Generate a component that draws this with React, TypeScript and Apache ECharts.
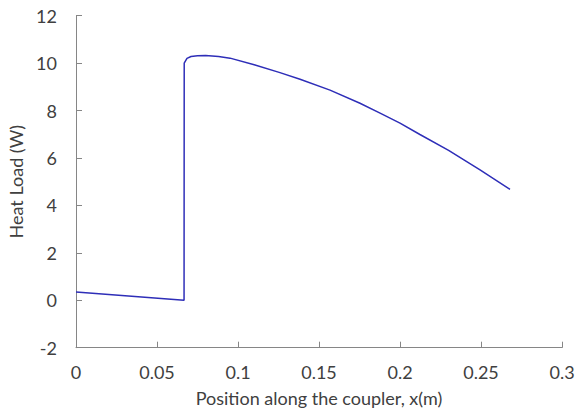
import React, { useEffect, useRef } from "react";
import * as echarts from "echarts";

const positions = [0, 0.0667, 0.0668, 0.0685, 0.071, 0.075, 0.08, 0.088, 0.0951, 0.11, 0.1259, 0.1383, 0.1568, 0.1753, 0.1877, 0.2, 0.2123, 0.23, 0.2494, 0.2679];
const heatLoad = [0.35, 0.0, 10.0, 10.2, 10.28, 10.31, 10.32, 10.28, 10.21, 9.93, 9.6, 9.32, 8.86, 8.31, 7.89, 7.47, 6.99, 6.32, 5.5, 4.68];

const xTitle = "Position along the coupler, x(m)";
const yTitle = "Heat Load (W)";

export default function App() {
  const ref = useRef<HTMLDivElement>(null);
  useEffect(() => {
    if (!ref.current) return;
    const chart = echarts.init(ref.current, undefined, { renderer: "svg" });
    const font = "Lato, 'Open Sans', sans-serif";
    const axisColor = "#868686";
    const textColor = "#404040";
    chart.setOption({
      animation: false,
      backgroundColor: "#ffffff",
      grid: { left: 76, right: 21, top: 15.7, bottom: 66.3, containLabel: false, outerBoundsMode: "none" },
      xAxis: {
        type: "value",
        min: 0,
        max: 0.3,
        interval: 0.05,
        name: xTitle,
        nameLocation: "middle",
        nameGap: 41,
        nameTextStyle: { fontFamily: font, fontSize: 18, color: textColor },
        axisLine: { show: true, onZero: false, lineStyle: { color: axisColor, width: 1 } },
        axisTick: { show: true, inside: true, length: 6, lineStyle: { color: axisColor } },
        axisLabel: { fontFamily: font, fontSize: 18, color: textColor, margin: 15 },
        splitLine: { show: false },
      },
      yAxis: {
        type: "value",
        min: -2,
        max: 12,
        interval: 2,
        name: yTitle,
        nameLocation: "middle",
        nameGap: 39,
        nameTextStyle: { fontFamily: font, fontSize: 18, color: textColor },
        axisLine: { show: true, onZero: false, lineStyle: { color: axisColor, width: 1 } },
        axisTick: { show: true, inside: true, length: 6, lineStyle: { color: axisColor } },
        axisLabel: { fontFamily: font, fontSize: 18, color: textColor, margin: 19 },
        splitLine: { show: false },
      },
      series: [
        {
          type: "line",
          data: positions.map((x, i) => [x, heatLoad[i]]),
          showSymbol: false,
          smooth: false,
          lineStyle: { color: "#2E2EB8", width: 1.5 },
        },
      ],
    });
    return () => chart.dispose();
  }, []);
  return <div ref={ref} style={{ position: "fixed", left: 0, top: 0, width: 583, height: 414 }} />;
}
